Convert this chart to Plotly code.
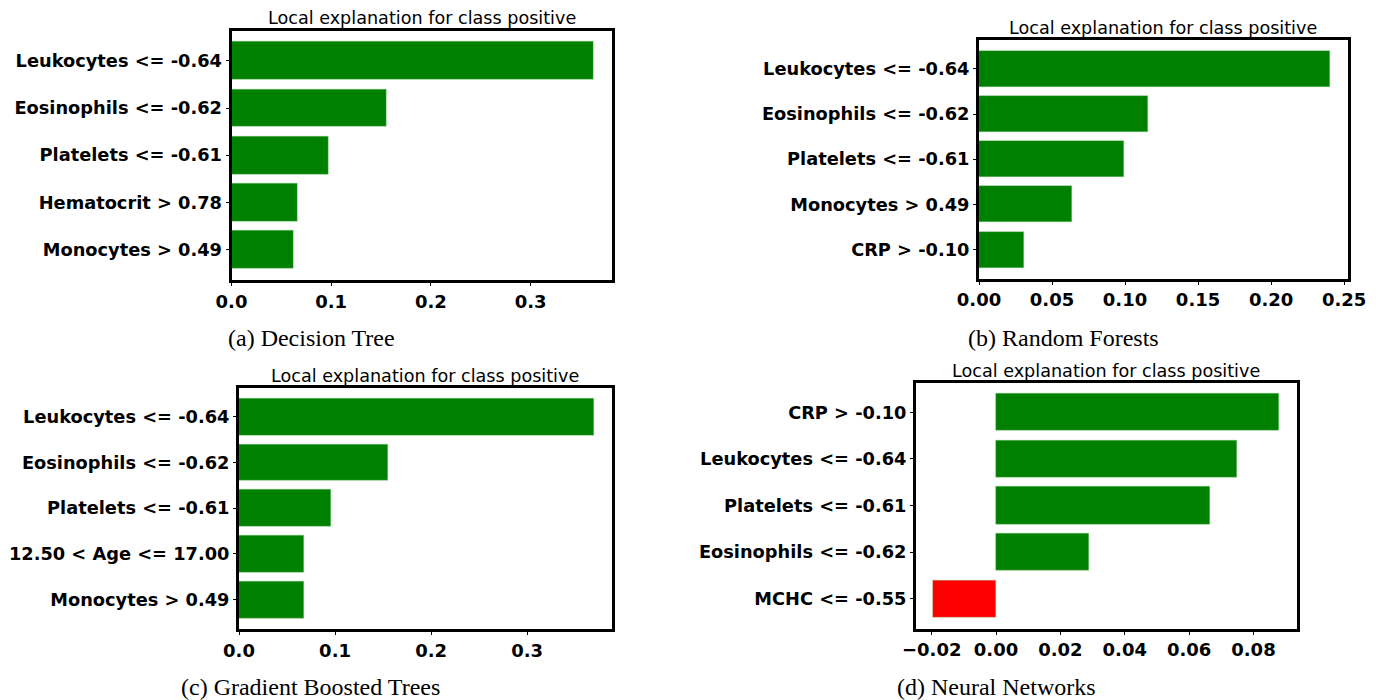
import plotly.graph_objects as go

W, H = 1376, 700
OFF = 8  # default page body margin in the written html

# ---- data (top-to-bottom order as displayed) ----
dt_labels = ["Leukocytes <= -0.64", "Eosinophils <= -0.62", "Platelets <= -0.61",
             "Hematocrit > 0.78", "Monocytes > 0.49"]
dt_values = [0.3635, 0.155, 0.0977, 0.0667, 0.0624]

rf_labels = ["Leukocytes <= -0.64", "Eosinophils <= -0.62", "Platelets <= -0.61",
             "Monocytes > 0.49", "CRP > -0.10"]
rf_values = [0.2403, 0.1156, 0.0992, 0.0639, 0.0311]

gb_labels = ["Leukocytes <= -0.64", "Eosinophils <= -0.62", "Platelets <= -0.61",
             "12.50 < Age <= 17.00", "Monocytes > 0.49"]
gb_values = [0.3694, 0.1556, 0.0962, 0.0681, 0.0673]

nn_labels = ["CRP > -0.10", "Leukocytes <= -0.64", "Platelets <= -0.61",
             "Eosinophils <= -0.62", "MCHC <= -0.55"]
nn_values = [0.0880, 0.0750, 0.0665, 0.0289, -0.0195]

title_text = "Local explanation for class positive"
captions = ["(a) Decision Tree", "(b) Random Forests",
            "(c) Gradient Boosted Trees", "(d) Neural Networks"]

x_ticks = [
    ([0.0, 0.1, 0.2, 0.3], ["0.0", "0.1", "0.2", "0.3"]),
    ([0.0, 0.05, 0.10, 0.15, 0.20, 0.25], ["0.00", "0.05", "0.10", "0.15", "0.20", "0.25"]),
    ([0.0, 0.1, 0.2, 0.3], ["0.0", "0.1", "0.2", "0.3"]),
    ([-0.02, 0.0, 0.02, 0.04, 0.06, 0.08], ["\u22120.02", "0.00", "0.02", "0.04", "0.06", "0.08"]),
]

panels = [
    (dt_labels, dt_values, (231.5, 612, 30.5, 280), (311, 338)),
    (rf_labels, rf_values, (979, 1347.5, 40, 278.5), (1063, 338)),
    (gb_labels, gb_values, (239, 611.5, 387.5, 629), (310, 687)),
    (nn_labels, nn_values, (916, 1296.5, 382.5, 628.5), (996, 687)),
]


def px(x):
    return (x - OFF) / W


def py(y):
    return 1 - (y - OFF) / H


fig = go.Figure()
annotations = []
for i, (labels, values, (x0, x1, y0, y1), (cx, cy)) in enumerate(panels):
    n = i + 1
    xa = "x" if n == 1 else f"x{n}"
    ya = "y" if n == 1 else f"y{n}"
    colors = ["green" if v > 0 else "red" for v in values]
    fig.add_trace(go.Bar(
        y=labels, x=values, orientation="h", width=0.8,
        marker=dict(color=colors, line=dict(width=0.6, color="rgba(120,200,120,0.6)")),
        xaxis=xa, yaxis=ya, showlegend=False,
    ))
    vmin = min(0, min(values))
    vmax = max(0, max(values))
    span = vmax - vmin
    lo = vmin - 0.05 * span if vmin < 0 else 0
    hi = vmax + 0.05 * span
    tv, tt = x_ticks[i]
    axis_common = dict(
        showline=True, linecolor="black", linewidth=3, mirror=True,
        showgrid=False, zeroline=False, automargin=False,
        ticks="outside", ticklen=3, tickwidth=1.2, tickcolor="black",
    )
    fig.layout[f"xaxis{'' if n == 1 else n}"] = dict(
        domain=[px(x0), px(x1)], anchor=ya, range=[lo, hi],
        tickvals=tv, ticktext=tt,
        tickfont=dict(family="DejaVu Sans", size=18, color="black", weight="bold"),
        **axis_common,
    )
    fig.layout[f"yaxis{'' if n == 1 else n}"] = dict(
        domain=[py(y1), py(y0)], anchor=xa,
        type="category", range=[4.64, -0.64],
        tickfont=dict(family="DejaVu Sans", size=17.8, color="black", weight="bold"),
        **axis_common,
    )
    annotations.append(dict(
        text=title_text, x=px((x0 + x1) / 2), y=py(y0),
        xref="paper", yref="paper", xanchor="center", yanchor="bottom",
        showarrow=False, font=dict(family="DejaVu Sans", size=17.6, color="black"),
    ))
    annotations.append(dict(
        text=captions[i], x=px(cx), y=py(cy),
        xref="paper", yref="paper", xanchor="center", yanchor="middle",
        showarrow=False, font=dict(family="Liberation Serif", size=24, color="black"),
    ))

fig.update_layout(
    width=W, height=H, margin=dict(l=0, r=0, t=0, b=0),
    paper_bgcolor="white", plot_bgcolor="white",
    annotations=annotations, bargap=0,
)
fig.write_html("out.html")
